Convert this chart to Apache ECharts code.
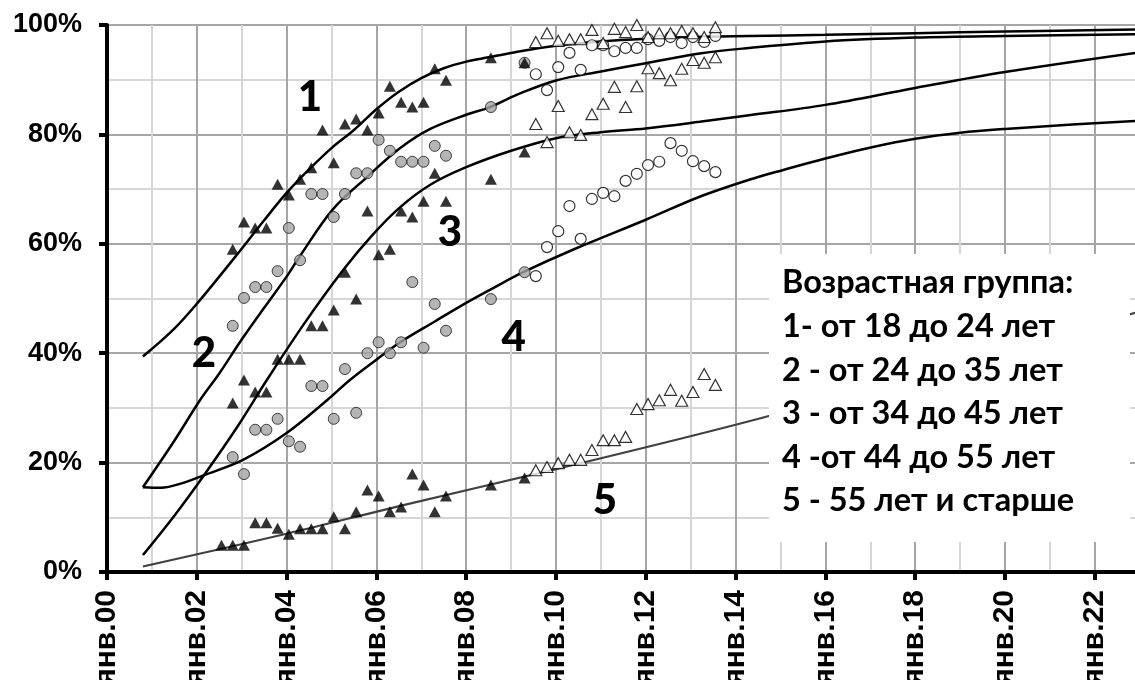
<!DOCTYPE html>
<html>
<head>
<meta charset="utf-8">
<script src="https://cdn.jsdelivr.net/npm/echarts@6/dist/echarts.min.js"></script>
<style>
  html, body { margin: 0; padding: 0; background: #fff; }
  #chart { width: 1135px; height: 680px; }
</style>
</head>
<body>
<div id="chart"></div>
<script>
// Observation dates, in years since January 2000
const datesEarly = [2.8, 3.05, 3.3, 3.55, 3.8, 4.05, 4.3, 4.55, 4.8, 5.05, 5.3, 5.55, 5.8, 6.05, 6.3, 6.55, 6.8, 7.05, 7.3, 7.55, 8.55, 9.3];
const datesEarly5 = [2.55, 2.8, 3.05, 3.3, 3.55, 3.8, 4.05, 4.3, 4.55, 4.8, 5.05, 5.3, 5.55, 5.8, 6.05, 6.3, 6.55, 6.8, 7.05, 7.3, 7.55, 8.55, 9.3];
const datesLate = [9.55, 9.8, 10.05, 10.3, 10.55, 10.8, 11.05, 11.3, 11.55, 11.8, 12.05, 12.3, 12.55, 12.8, 13.05, 13.3, 13.55];

// Share of users by age group, % (first survey wave)
const g1Early = [59.0, 64.0, 62.9, 62.9, 70.9, 68.9, 71.8, 73.9, 80.8, 74.8, 81.9, 82.8, 80.8, 83.9, 88.8, 85.9, 85.0, 85.9, 92.0, 89.9, 94.0, 93.1];
const g2Early = [45.0, 50.1, 52.1, 52.1, 55.0, 62.9, 57.0, 69.1, 69.1, 64.9, 69.1, 72.9, 72.9, 79.0, 77.0, 75.0, 75.0, 75.0, 77.9, 76.1, 85.0, 93.1];
const g3Early = [30.9, 35.1, 32.9, 32.9, 38.9, 38.9, 38.9, 45.0, 45.0, 47.9, 54.8, 49.9, 66.0, 58.0, 59.0, 66.0, 64.9, 67.8, 72.9, 67.8, 71.8, 76.8];
const g4Early = [21.0, 17.9, 26.0, 26.0, 28.0, 23.9, 22.9, 34.0, 34.0, 28.0, 37.1, 29.1, 40.0, 42.0, 40.0, 42.0, 53.0, 41.0, 49.0, 44.1, 49.9, 54.8];
const g5Early = [4.9, 4.9, 4.9, 9.0, 9.0, 8.0, 6.9, 7.9, 7.9, 7.9, 10.1, 7.9, 11.0, 15.0, 13.9, 11.0, 11.9, 17.9, 15.9, 11.0, 13.9, 15.9, 17.2];

// Share of users by age group, % (second survey wave)
const g1Late = [96.9, 98.5, 97.1, 97.4, 97.4, 99.1, 96.7, 99.3, 98.7, 100.0, 97.8, 98.5, 98.5, 98.9, 98.5, 97.8, 99.6];
const g2Late = [91.0, 88.1, 92.3, 94.9, 91.8, 96.3, 96.3, 95.2, 95.8, 95.8, 97.4, 97.1, 97.8, 96.7, 97.8, 96.9, 98.0];
const g3Late = [81.9, 78.6, 85.2, 80.4, 79.9, 83.7, 85.6, 88.7, 85.0, 88.8, 92.1, 91.2, 89.9, 92.0, 93.6, 93.1, 94.1];
const g4Late = [54.1, 59.4, 62.3, 66.9, 60.9, 68.2, 69.3, 68.7, 71.5, 72.8, 74.4, 75.0, 78.4, 77.0, 75.1, 74.2, 73.1];
const g5Late = [18.6, 19.2, 19.9, 20.5, 20.5, 22.3, 24.1, 24.1, 24.7, 29.8, 30.7, 31.4, 33.3, 31.3, 32.9, 36.2, 34.2];

// Trend curves per age group: [year, %]
const trend1 = [[0.8, 39.4], [1.5, 44.5], [2.07, 49.7], [2.5, 54.0], [3.03, 59.4], [3.5, 64.3], [4.0, 69.3], [4.5, 73.6], [5.0, 77.5], [5.5, 80.8], [6.0, 84.6], [6.5, 87.8], [7.0, 90.3], [7.5, 92.1], [8.0, 93.3], [8.5, 94.1], [9.0, 94.9], [10.0, 96.2], [11.0, 97.0], [12.0, 97.5], [13.0, 97.8], [14.3, 98.0], [16.0, 98.2], [18.0, 98.5], [20.0, 98.8], [23.0, 99.2]];
const trend2 = [[0.8, 15.5], [1.5, 24.0], [2.07, 31.4], [2.5, 36.3], [3.0, 42.5], [3.5, 48.3], [4.0, 54.0], [4.3, 57.8], [5.03, 66.3], [5.79, 72.2], [6.53, 77.5], [7.2, 81.0], [8.0, 83.6], [8.53, 85.0], [9.2, 87.5], [10.02, 89.9], [11.0, 91.5], [12.0, 93.0], [13.2, 94.8], [14.3, 95.8], [16.0, 97.0], [18.0, 97.7], [20.0, 98.0], [23.0, 98.3]];
const trend3 = [[0.8, 3.1], [1.5, 10.3], [2.16, 17.7], [2.9, 26.5], [3.56, 35.1], [4.4, 45.5], [5.26, 55.2], [5.9, 61.5], [6.53, 66.7], [7.2, 70.8], [8.0, 74.0], [9.0, 77.0], [10.0, 79.3], [11.0, 80.4], [12.0, 81.1], [13.2, 82.3], [14.3, 83.5], [16.0, 85.4], [18.0, 88.5], [20.0, 91.4], [23.0, 95.0]];
const trend4 = [[0.8, 15.5], [1.2, 15.4], [1.7, 16.3], [2.16, 17.7], [3.03, 20.5], [4.0, 25.4], [4.9, 31.4], [5.41, 35.1], [6.0, 38.8], [6.53, 42.0], [7.3, 45.8], [8.0, 49.2], [8.6, 51.9], [9.27, 54.8], [10.4, 59.0], [12.0, 64.4], [13.2, 68.6], [14.3, 71.7], [15.06, 73.5], [16.0, 75.6], [17.06, 77.7], [18.0, 79.2], [19.0, 80.3], [20.0, 81.0], [21.5, 81.8], [23.0, 82.5]];
const trend5 = [[0.8, 1.0], [4.0, 7.0], [6.53, 12.1], [10.0, 18.8], [14.32, 27.6], [18.0, 36.1], [23.0, 47.6]];

// Curve numbers placed next to their curves: [year, %, text]
const curveNumbers = [[4.52, 86.7, '1'], [2.16, 40.0, '2'], [7.64, 62.0, '3'], [9.06, 42.8, '4'], [11.09, 13.0, '5']];

const legendLines = [
  'Возрастная группа:',
  '1- от 18 до 24 лет',
  '2 - от 24 до 35 лет',
  '3 - от 34 до 45 лет',
  '4 -от 44 до 55 лет',
  '5 - 55 лет и старше'
];

const pairs = (xs, ys) => xs.map((x, i) => [x, ys[i]]);

const triBlack = { symbol: 'triangle', symbolSize: [12, 11], itemStyle: { color: '#000' } };
const circGray = { symbol: 'circle', symbolSize: 11, itemStyle: { color: '#a3a3a3', borderColor: '#1a1a1a', borderWidth: 1 } };
const triOpen = { symbol: 'triangle', symbolSize: [12, 11], itemStyle: { color: '#fff', borderColor: '#000', borderWidth: 1.2 } };
const circOpen = { symbol: 'circle', symbolSize: 11, itemStyle: { color: '#fff', borderColor: '#000', borderWidth: 1.2 } };

function dots(data, style) {
  return Object.assign({ type: 'scatter', data, z: 4, silent: true }, style);
}
function trend(data, color, width) {
  return { type: 'line', data, smooth: 0.35, showSymbol: false, symbol: 'none',
           lineStyle: { color, width }, z: 3, silent: true };
}

const chart = echarts.init(document.getElementById('chart'), null, { renderer: 'canvas' });

const tickFont = { fontFamily: 'Liberation Sans, Arial, sans-serif', fontWeight: 'bold', color: '#000' };

chart.setOption({
  animation: false,
  backgroundColor: '#fff',
  grid: { left: 107, top: 25, width: 1077.6, height: 547, outerBoundsMode: 'none' },
  xAxis: {
    type: 'value', min: 0, max: 24, interval: 2,
    axisLine: { show: true, onZero: false, lineStyle: { color: '#000', width: 4 } },
    axisTick: { show: true, length: 8, lineStyle: { color: '#000', width: 4 } },
    axisLabel: Object.assign({ rotate: 90, margin: 18, fontSize: 30,
      formatter: v => 'янв.' + String(v).padStart(2, '0') }, tickFont),
    splitLine: { show: true, lineStyle: { color: '#a6a6a6', width: 2 } },
    minorTick: { show: false, splitNumber: 2 },
    minorSplitLine: { show: true, lineStyle: { color: '#d6d6d6', width: 2 } }
  },
  yAxis: {
    type: 'value', min: 0, max: 100, interval: 20,
    axisLine: { show: true, lineStyle: { color: '#000', width: 4 } },
    axisTick: { show: true, length: 8, lineStyle: { color: '#000', width: 4 } },
    axisLabel: Object.assign({ margin: 25, fontSize: 27, formatter: '{value}%' }, tickFont),
    splitLine: { show: true, lineStyle: { color: '#a6a6a6', width: 2 } },
    minorTick: { show: false, splitNumber: 2 },
    minorSplitLine: { show: true, lineStyle: { color: '#d6d6d6', width: 2 } }
  },
  series: [
    trend(trend1, '#000', 2.5),
    trend(trend2, '#000', 2.5),
    trend(trend3, '#000', 2.5),
    trend(trend4, '#000', 2.5),
    trend(trend5, '#404040', 2.2),
    dots(pairs(datesEarly, g4Early), circGray),
    dots(pairs(datesEarly, g2Early), circGray),
    dots(pairs(datesEarly5, g5Early), triBlack),
    dots(pairs(datesEarly, g3Early), triBlack),
    dots(pairs(datesEarly, g1Early), triBlack),
    dots(pairs(datesLate, g5Late), triOpen),
    dots(pairs(datesLate, g4Late), circOpen),
    dots(pairs(datesLate, g3Late), triOpen),
    dots(pairs(datesLate, g2Late), circOpen),
    dots(pairs(datesLate, g1Late), triOpen),
    {
      type: 'custom', data: curveNumbers.map(d => [d[0], d[1]]), z: 5, silent: true,
      renderItem: (params, api) => {
        const p = api.coord([api.value(0), api.value(1)]);
        return { type: 'text', style: { text: curveNumbers[params.dataIndex][2], x: p[0], y: p[1],
                 font: '900 42px Lato, "Open Sans", sans-serif', fill: '#000',
                 align: 'center', verticalAlign: 'middle' } };
      }
    }
  ],
  graphic: [
    { type: 'rect', z: 100, shape: { x: 769, y: 254, width: 361, height: 288 }, style: { fill: '#fff' } }
  ].concat(legendLines.map((t, i) => ({
    type: 'text', z: 101,
    style: { text: t, x: 782, y: 283 + 43.6 * i, font: 'bold 32.5px Lato, "Open Sans", sans-serif',
             fill: '#000', align: 'left', verticalAlign: 'middle' }
  })))
});
</script>
</body>
</html>
